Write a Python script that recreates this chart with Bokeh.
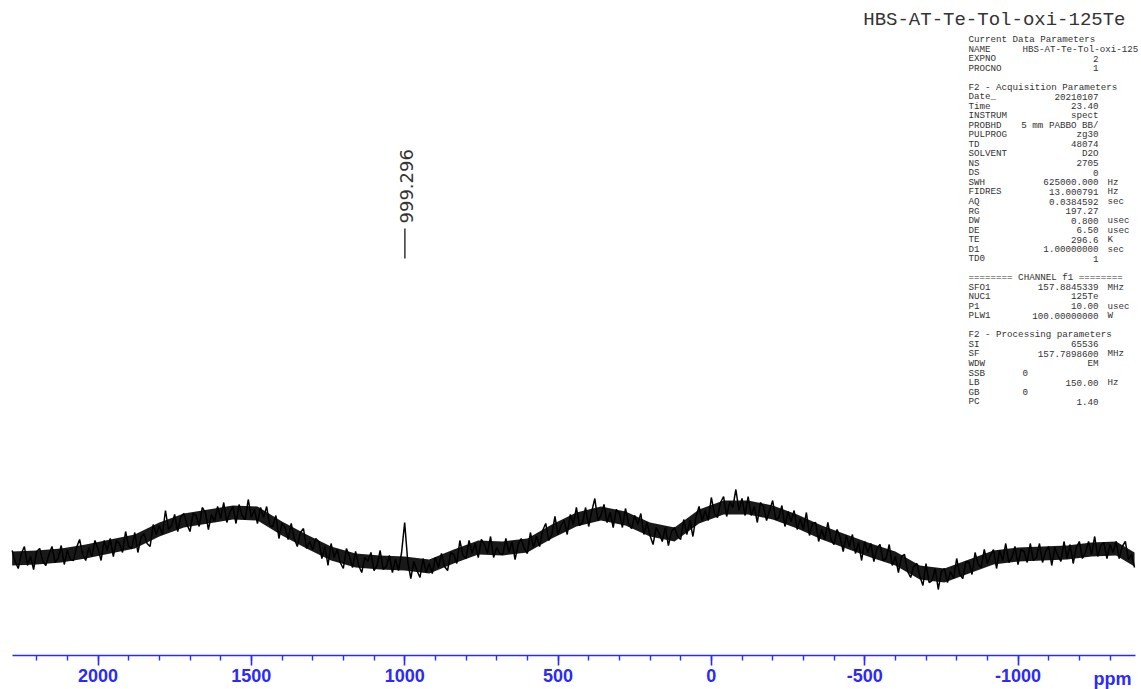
import numpy as np
from math import pi
from bokeh.plotting import figure
from bokeh.models import Range1d, Label, FixedTicker
from bokeh.embed import file_html
from bokeh.resources import INLINE

# --- spectrum (125Te, ppm grid every 10 ppm from 2280 down to -1380) ---
ppm_first = 2280
ppm_step = -10
intensity = [
    105, 94, 87, 102, 109, 90, 99, 86, 104, 107, 94, 90, 101, 109, 93, 97, 110, 91, 105, 96,
    95, 108, 116, 101, 95, 108, 99, 115, 107, 95, 115, 105, 117, 99, 115, 112, 103, 124, 109, 107,
    123, 103, 118, 122, 112, 109, 131, 121, 130, 121, 145, 126, 130, 141, 124, 139, 142, 131, 124, 142,
    140, 129, 148, 143, 126, 141, 134, 149, 137, 153, 133, 143, 149, 132, 151, 140, 136, 156, 138, 146,
    132, 148, 138, 149, 130, 129, 140, 117, 132, 128, 116, 132, 117, 109, 123, 127, 107, 114, 106, 117,
    114, 97, 109, 90, 112, 98, 106, 93, 87, 107, 99, 88, 104, 90, 83, 98, 94, 103, 85, 90,
    105, 86, 89, 100, 83, 96, 85, 103, 133, 94, 77, 94, 85, 78, 97, 83, 92, 82, 98, 88,
    102, 89, 85, 103, 101, 92, 115, 100, 97, 115, 102, 112, 98, 116, 111, 102, 119, 98, 108, 102,
    101, 117, 103, 114, 96, 111, 117, 107, 102, 123, 108, 119, 109, 125, 132, 115, 121, 139, 121, 130,
    135, 121, 141, 131, 148, 130, 133, 148, 129, 144, 157, 135, 140, 151, 133, 143, 128, 146, 142, 128,
    147, 132, 127, 140, 131, 142, 121, 133, 120, 111, 128, 122, 114, 128, 110, 124, 128, 119, 116, 136,
    121, 135, 119, 139, 149, 135, 145, 135, 158, 142, 138, 153, 159, 139, 154, 148, 166, 145, 157, 140,
    159, 140, 149, 133, 153, 149, 135, 145, 155, 136, 138, 150, 129, 144, 134, 145, 126, 137, 126, 143,
    120, 132, 133, 114, 126, 116, 133, 116, 111, 126, 118, 104, 120, 109, 121, 102, 113, 95, 114, 103,
    112, 94, 107, 111, 95, 97, 111, 90, 99, 83, 99, 101, 84, 78, 89, 92, 79, 70, 92, 73,
    75, 87, 66, 84, 87, 73, 84, 77, 97, 81, 77, 94, 93, 81, 103, 91, 88, 106, 92, 100,
    106, 87, 105, 95, 112, 93, 98, 109, 91, 106, 104, 93, 112, 95, 98, 112, 93, 104, 109, 90,
    108, 100, 94, 114, 97, 111, 92, 108, 114, 97, 103, 114, 101, 119, 99, 110, 113, 97, 111, 103,
    114, 97, 109, 114, 96, 101, 88,
]

# dense core of the noise band
band_ppm = [2280, 2200, 2120, 2040, 1960, 1880, 1800, 1720, 1640, 1560,
            1480, 1400, 1320, 1240, 1160, 1080, 1000, 920, 840, 760,
            680, 600, 520, 440, 360, 280, 200, 120, 40, -40,
            -120, -200, -280, -360, -440, -520, -600, -680, -760, -840,
            -920, -1000, -1080, -1160, -1240, -1320, -1380]
band_lo = [90, 91, 93, 97, 102, 107, 119, 128, 132, 136,
           135, 120, 107, 95, 88, 86, 85, 82, 92, 101,
           100, 103, 117, 129, 135, 130, 119, 114, 132, 141,
           141, 136, 127, 116, 107, 98, 90, 76, 73, 82,
           91, 94, 95, 96, 99, 100, 89]
band_hi = [104, 105, 107, 111, 116, 121, 133, 142, 146, 150,
           149, 134, 121, 109, 102, 100, 99, 96, 106, 115,
           114, 117, 131, 143, 149, 144, 133, 128, 146, 155,
           155, 150, 141, 130, 121, 112, 104, 90, 87, 96,
           105, 108, 109, 110, 113, 114, 103]

peak_ppm = [999.296]
peak_labels = ["999.296"]

major_ticks = [2000, 1500, 1000, 500, 0, -500, -1000]
major_tick_labels = ["2000", "1500", "1000", "500", "0", "-500", "-1000"]
minor_ticks = list(range(2200, -1400, -100))

title_text = "HBS-AT-Te-Tol-oxi-125Te"

# acquisition / processing parameter listing: (key, value, unit)
params = [
    ("Current Data Parameters", "", ""),
    ("NAME", "HBS-AT-Te-Tol-oxi-125", "L"),
    ("EXPNO", "2", ""),
    ("PROCNO", "1", ""),
    None,
    ("F2 - Acquisition Parameters", "", ""),
    ("Date_", "20210107", ""),
    ("Time", "23.40", ""),
    ("INSTRUM", "spect", ""),
    ("PROBHD", "5 mm PABBO BB/", ""),
    ("PULPROG", "zg30", ""),
    ("TD", "48074", ""),
    ("SOLVENT", "D2O", ""),
    ("NS", "2705", ""),
    ("DS", "0", ""),
    ("SWH", "625000.000", "Hz"),
    ("FIDRES", "13.000791", "Hz"),
    ("AQ", "0.0384592", "sec"),
    ("RG", "197.27", ""),
    ("DW", "0.800", "usec"),
    ("DE", "6.50", "usec"),
    ("TE", "296.6", "K"),
    ("D1", "1.00000000", "sec"),
    ("TD0", "1", ""),
    None,
    ("======== CHANNEL f1 ========", "", ""),
    ("SFO1", "157.8845339", "MHz"),
    ("NUC1", "125Te", ""),
    ("P1", "10.00", "usec"),
    ("PLW1", "100.00000000", "W"),
    None,
    ("F2 - Processing parameters", "", ""),
    ("SI", "65536", ""),
    ("SF", "157.7898600", "MHz"),
    ("WDW", "EM", ""),
    ("SSB", "0", "L"),
    ("LB", "150.00", "Hz"),
    ("GB", "0", "L"),
    ("PC", "1.40", ""),
]

# --- layout helpers: canvas pixel -> data coordinates ---
PX_PER_PPM = 0.30667
AXIS_PY = 655


def sx(px):
    return 2000 - (px - 97.5) / PX_PER_PPM


def sy(py):
    return AXIS_PY - py


ppm = ppm_first + ppm_step * np.arange(len(intensity))

# the plot frame covers the whole canvas; the ppm axis sits at intensity 0
p = figure(width=1141, height=689, output_backend="svg", toolbar_location=None,
           x_range=Range1d(sx(0), sx(1141)), y_range=Range1d(sy(689), sy(0)),
           y_axis_location=None, min_border=0, min_border_left=0,
           min_border_right=0, min_border_top=0, min_border_bottom=0)
p.grid.visible = False
p.outline_line_color = None
p.background_fill_color = "white"
p.border_fill_color = "white"

axis_blue = "#2a2aff"
ax = p.xaxis[0]
ax.fixed_location = 0
ax.bounds = (sx(1135), sx(12))
ax.ticker = FixedTicker(ticks=major_ticks, minor_ticks=minor_ticks)
ax.major_label_overrides = dict(zip(major_ticks, major_tick_labels))
ax.axis_line_color = axis_blue
ax.axis_line_width = 1.6
ax.major_tick_line_color = axis_blue
ax.major_tick_line_width = 1.6
ax.minor_tick_line_color = axis_blue
ax.minor_tick_line_width = 1.4
ax.major_tick_in = 0
ax.major_tick_out = 10
ax.minor_tick_in = 0
ax.minor_tick_out = 5
ax.major_label_standoff = 3
ax.major_label_text_font = "Liberation Sans"
ax.major_label_text_font_style = "bold"
ax.major_label_text_font_size = "18px"
ax.major_label_text_color = axis_blue

# spectrum
p.varea(x=band_ppm, y1=band_lo, y2=band_hi, color="black", alpha=0.9)
p.line(ppm, intensity, color="black", line_width=1.5)

# peak pick marker and label
p.segment(x0=peak_ppm, y0=[sy(258)], x1=peak_ppm, y1=[sy(228)],
          line_color="#333333", line_width=1.5)
for pk, txt in zip(peak_ppm, peak_labels):
    p.add_layout(Label(x=pk, y=sy(223), text=txt, angle=pi / 2,
                       x_offset=2, text_align="left", text_baseline="middle",
                       text_font="DejaVu Sans", text_font_size="18px",
                       text_color="#333333"))

# unit label at the right end of the axis
p.add_layout(Label(x=sx(1093), y=sy(668), text="ppm", text_align="left",
                   text_baseline="top", text_font="Liberation Sans",
                   text_font_style="bold", text_font_size="18px",
                   text_color=axis_blue))

# experiment name
p.add_layout(Label(x=sx(1125), y=sy(19), text=title_text, text_align="right",
                   text_baseline="middle", text_font="Liberation Mono",
                   text_font_size="19px", text_color="#333333"))

# parameter listing
mono = dict(text_font="Liberation Mono", text_font_size="9.2px",
            text_color="#333333", text_baseline="middle")
row_y0, row_dy = 39.0, 9.53
for i, row in enumerate(params):
    if row is None:
        continue
    key, val, unit = row
    y = sy(row_y0 + i * row_dy)
    p.add_layout(Label(x=sx(968), y=y, text=key, text_align="left", **mono))
    if val:
        if unit == "L":
            p.add_layout(Label(x=sx(1022), y=y, text=val, text_align="left", **mono))
        else:
            p.add_layout(Label(x=sx(1098), y=y, text=val, text_align="right", **mono))
    if unit and unit != "L":
        p.add_layout(Label(x=sx(1107), y=y, text=unit, text_align="left", **mono))

open("out.html", "w").write(file_html(p, INLINE))
